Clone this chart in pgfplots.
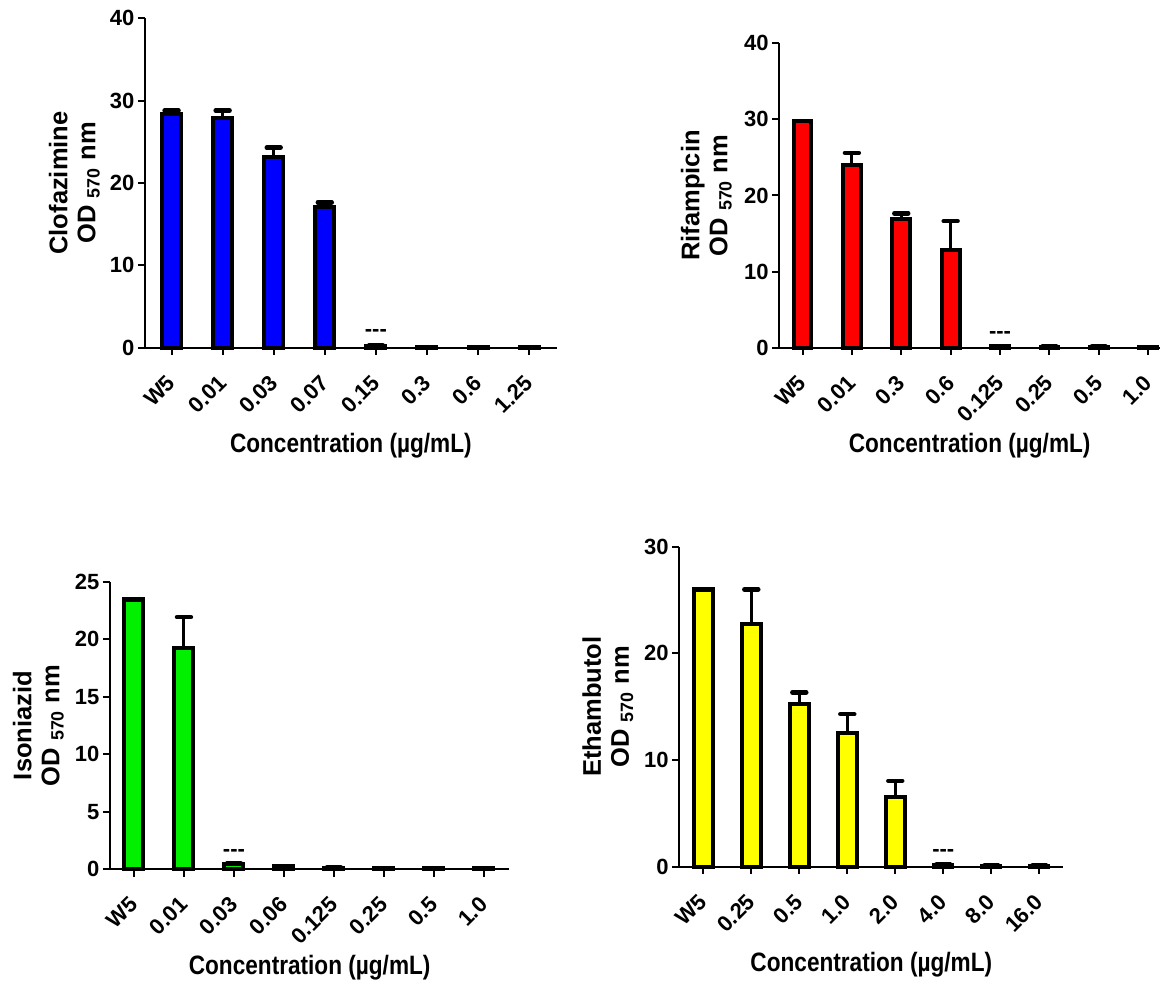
\documentclass[border=0pt]{standalone}
\usepackage{fontspec}
\setmainfont{Liberation Sans}
\newfontfamily\condsans{Liberation Sans}[FakeStretch=0.85]
\usepackage{pgfplots}
\pgfplotsset{compat=1.18}
\usepackage{pgfplotstable}

\definecolor{barblue}{RGB}{0,0,255}
\definecolor{barred}{RGB}{255,0,0}
\definecolor{bargreen}{RGB}{0,240,0}
\definecolor{baryellow}{RGB}{255,255,0}

% mean OD570 and upper SD for each concentration
\pgfplotstableread{
x y e
0 28.40 0.40
1 27.85 0.95
2 23.20 1.10
3 17.05 0.60
4 0.25 0
5 0.12 0
6 0.12 0
7 0.12 0
}\clofazimine

\pgfplotstableread{
x y e
0 29.80 0
1 24.00 1.60
2 16.90 0.75
3 12.84 3.80
4 0.20 0
5 0.15 0
6 0.15 0
7 0.12 0
}\rifampicin

\pgfplotstableread{
x y e
0 23.47 0
1 19.27 2.65
2 0.50 0
3 0.25 0
4 0.15 0
5 0.12 0
6 0.10 0
7 0.10 0
}\isoniazid

\pgfplotstableread{
x y e
0 26.00 0
1 22.80 3.20
2 15.30 1.05
3 12.50 1.80
4 6.56 1.50
5 0.20 0
6 0.10 0
7 0.10 0
}\ethambutol

\tikzset{nodash/.style={font=\bfseries\fontsize{11}{13}\selectfont, inner sep=0pt}}

\pgfplotsset{
  odpanel/.style={
    scale only axis,
    axis lines*=left,
    axis line style={line width=1pt, -},
    tick style={line width=1pt, black},
    tick align=outside,
    major tick length=3.6pt,
    xtick=data,
    ymin=0,
    ybar,
    clip=false,
    /pgf/number format/assume math mode=true,
    ticklabel style={font=\bfseries\fontsize{11}{13}\selectfont},
    xticklabel style={rotate=45, anchor=east, inner sep=0pt},
    xticklabel shift=12pt,
    yticklabel style={inner sep=1.5pt},
    xlabel={Concentration (µg/mL)},
    xlabel style={font=\condsans\bfseries\fontsize{13.3}{15}\selectfont,
      at={(axis description cs:0.5,0)}, anchor=base, yshift=-52.5pt},
    ylabel style={font=\bfseries\fontsize{12.75}{14}\selectfont,
      align=center, anchor=south, inner sep=0pt},
    every axis plot/.append style={draw=black, line width=2pt},
    error bars/y dir=plus,
    error bars/y explicit,
    error bars/error bar style={line width=1.5pt, black},
    error bars/error mark options={rotate=90, mark size=3.5pt, line width=2.2pt,
      line cap=round, black},
  },
}

\begin{document}
\begin{tikzpicture}
\useasboundingbox (0,0) rectangle (581pt,490pt);

% Clofazimine
\begin{axis}[odpanel,
  at={(72.5pt,316.15pt)}, anchor=south west,
  width=205.85pt, height=164.7pt,
  xmin=-0.52, xmax=7.54, ymax=40, ytick={0,10,20,30,40},
  bar width=9.5pt,
  xticklabels={W5,0.01,0.03,0.07,0.15,0.3,0.6,1.25},
  ylabel={Clofazimine\\OD \textsubscript{570} nm},
  ylabel style={at={(axis description cs:-0.109,0.5)}},
]
\addplot[fill=barblue] table[x=x, y=y, y error=e] {\clofazimine};
\node[nodash] at (axis cs:4,1.8) {-{}-{}-};
\end{axis}

% Rifampicin
\begin{axis}[odpanel,
  at={(389.65pt,316.15pt)}, anchor=south west,
  width=190.35pt, height=152.2pt,
  xmin=-0.47, xmax=7.24, ymax=40, ytick={0,10,20,30,40},
  bar width=8.9pt,
  xticklabels={W5,0.01,0.3,0.6,0.125,0.25,0.5,1.0},
  ylabel={Rifampicin\\OD \textsubscript{570} nm},
  ylabel style={at={(axis description cs:-0.124,0.5)}},
]
\addplot[fill=barred] table[x=x, y=y, y error=e] {\rifampicin};
\node[nodash] at (axis cs:4,1.67) {-{}-{}-};
\end{axis}

% Isoniazid
\begin{axis}[odpanel,
  at={(55pt,55.35pt)}, anchor=south west,
  width=199.65pt, height=143.8pt,
  xmin=-0.48, xmax=7.51, ymax=25, ytick={0,5,10,15,20,25},
  bar width=9.5pt,
  xticklabels={W5,0.01,0.03,0.06,0.125,0.25,0.5,1.0},
  ylabel={Isoniazid\\OD \textsubscript{570} nm},
  ylabel style={at={(axis description cs:-0.115,0.5)}},
]
\addplot[fill=bargreen] table[x=x, y=y, y error=e] {\isoniazid};
\node[nodash] at (axis cs:2,1.44) {-{}-{}-};
\end{axis}

% Ethambutol
\begin{axis}[odpanel,
  at={(339.65pt,56.65pt)}, anchor=south west,
  width=192pt, height=160pt,
  xmin=-0.5, xmax=7.5, ymax=30, ytick={0,10,20,30},
  bar width=9.2pt,
  xticklabels={W5,0.25,0.5,1.0,2.0,4.0,8.0,16.0},
  ylabel={Ethambutol\\OD \textsubscript{570} nm},
  ylabel style={at={(axis description cs:-0.119,0.5)}},
]
\addplot[fill=baryellow] table[x=x, y=y, y error=e] {\ethambutol};
\node[nodash] at (axis cs:5,1.31) {-{}-{}-};
\end{axis}
\end{tikzpicture}
\end{document}
